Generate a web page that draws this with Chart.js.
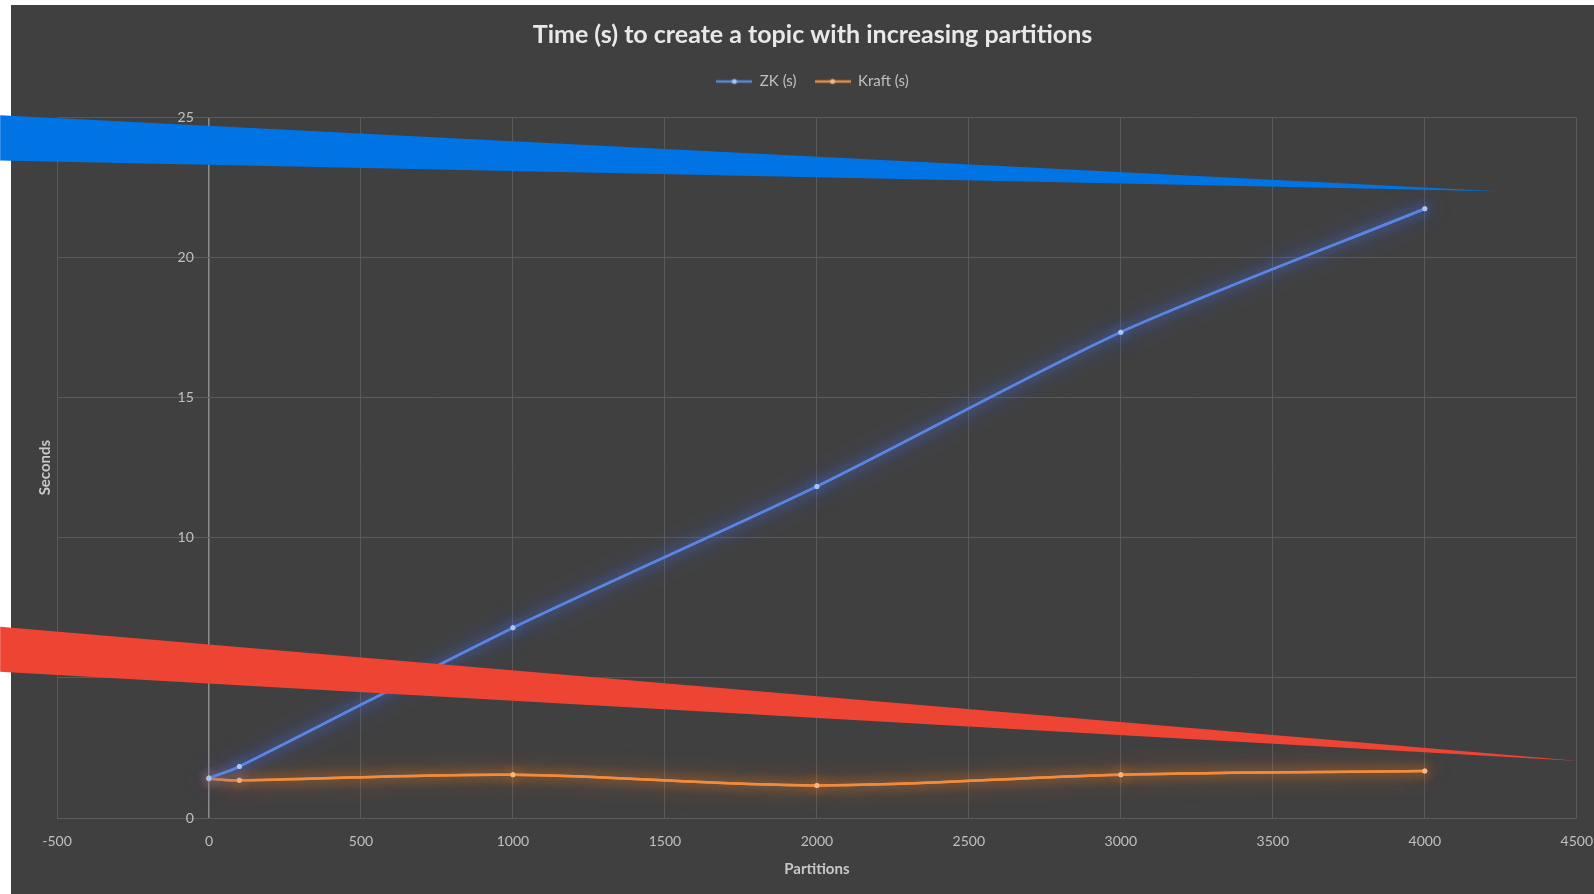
<!DOCTYPE html>
<html>
<head>
<meta charset="utf-8">
<script src="https://cdn.jsdelivr.net/npm/chart.js@4.4.1/dist/chart.umd.min.js"></script>
<style>
  html, body { margin: 0; padding: 0; background: #ffffff; }
  #wrap { position: relative; width: 1594px; height: 894px; overflow: hidden; }
  #bg { position: absolute; left: 11px; top: 5px; right: 0; bottom: 0; background: #404040; }
  #chart { position: absolute; left: 0; top: 0; }
</style>
</head>
<body>
<div id="wrap">
  <div id="bg"></div>
  <canvas id="chart" width="1594" height="894"></canvas>
</div>
<script>
// data
const partitions = [0, 100, 1000, 2000, 3000, 4000];
const zkSeconds = [1.43, 1.84, 6.79, 11.83, 17.33, 21.73];
const kraftSeconds = [1.41, 1.35, 1.55, 1.17, 1.55, 1.68];
const seriesNames = ['ZK (s)', 'Kraft (s)'];
const xTickStep = 500;
const yTickStep = 5;

// highlight wedges drawn over the chart (data units: left edge, left edge, tip)
const blueWedge = [[-687, 25.06], [-687, 23.45], [4241, 22.35]];
const redWedge = [[-687, 6.83], [-687, 5.22], [4507, 2.04]];

const toPoints = (ys) => partitions.map((x, i) => ({ x: x, y: ys[i] }));

// little line-with-dot legend marker
function legendMarker(lineColor, dotColor) {
  const c = document.createElement('canvas');
  c.width = 36; c.height = 10;
  const g = c.getContext('2d');
  g.strokeStyle = lineColor; g.lineWidth = 2.5;
  g.beginPath(); g.moveTo(0, 5); g.lineTo(36, 5); g.stroke();
  g.fillStyle = dotColor;
  g.beginPath(); g.arc(18, 5, 2.5, 0, Math.PI * 2); g.fill();
  return c;
}

// soft glow round each line (drawn twice so the halo is visible)
const glow = {
  id: 'glow',
  beforeDatasetDraw(chart, args) {
    const ds = chart.data.datasets[args.index];
    chart.ctx.save();
    chart.ctx.shadowColor = ds.glowColor;
    chart.ctx.shadowBlur = 24;
  },
  afterDatasetDraw(chart, args) {
    chart.ctx.shadowBlur = 12;
    args.meta.controller.draw();
    chart.ctx.restore();
  }
};

const wedges = {
  id: 'wedges',
  afterDraw(chart) {
    const { ctx, scales } = chart;
    const fillWedge = (pts, color) => {
      ctx.save();
      ctx.fillStyle = color;
      ctx.beginPath();
      pts.forEach((p, i) => {
        const px = scales.x.getPixelForValue(p[0]);
        const py = scales.y.getPixelForValue(p[1]);
        if (i === 0) ctx.moveTo(px, py); else ctx.lineTo(px, py);
      });
      ctx.closePath();
      ctx.fill();
      ctx.restore();
    };
    fillWedge(blueWedge, '#0074e4');
    fillWedge(redWedge, '#ee4433');
  }
};

const legendGap = {
  id: 'legendGap',
  beforeInit(chart) {
    const fit = chart.legend.fit;
    chart.legend.fit = function () {
      fit.bind(chart.legend)();
      this.height += 18;
    };
  }
};

const plainNumber = (v) => String(v);

const ctx = document.getElementById('chart').getContext('2d');
new Chart(ctx, {
  type: 'line',
  data: {
    datasets: [
      {
        label: seriesNames[0],
        data: toPoints(zkSeconds),
        borderColor: '#5a86e0',
        backgroundColor: '#aac4f4',
        glowColor: 'rgba(70, 110, 240, 1)',
        borderWidth: 2.5,
        pointRadius: 2.5,
        pointBorderWidth: 0,
        tension: 0.25,
        marker: legendMarker('#5a86e0', '#aac4f4')
      },
      {
        label: seriesNames[1],
        data: toPoints(kraftSeconds),
        borderColor: '#f08c40',
        backgroundColor: '#f7b882',
        glowColor: 'rgba(245, 125, 30, 1)',
        borderWidth: 2.5,
        pointRadius: 2.5,
        pointBorderWidth: 0,
        tension: 0.35,
        marker: legendMarker('#f08c40', '#f7b882')
      }
    ]
  },
  options: {
    responsive: false,
    animation: false,
    layout: { padding: { left: 33, right: 2, top: 0, bottom: 16 } },
    plugins: {
      title: {
        display: true,
        text: 'Time (s) to create a topic with increasing partitions',
        color: '#e8e8e8',
        font: { family: 'Lato', size: 25, weight: 'bold' },
        padding: { top: 20, bottom: 6 }
      },
      legend: {
        labels: {
          color: '#c0c0c0',
          font: { family: 'Lato', size: 15 },
          usePointStyle: true,
          pointStyleWidth: 36,
          padding: 18,
          generateLabels(chart) {
            return chart.data.datasets.map((ds, i) => ({
              text: ds.label,
              pointStyle: ds.marker,
              fontColor: '#c0c0c0',
              lineWidth: 0,
              strokeStyle: 'transparent',
              fillStyle: 'transparent',
              datasetIndex: i
            }));
          }
        }
      },
      tooltip: { enabled: false }
    },
    scales: {
      x: {
        type: 'linear',
        min: -500,
        max: 4500,
        ticks: {
          stepSize: xTickStep,
          callback: plainNumber,
          color: '#c0c0c0',
          font: { family: 'Lato', size: 14 },
          padding: 1
        },
        grid: {
          color: (c) => (c.tick && c.tick.value === 0 ? '#8c8c8c' : '#5a5a5a'),
          lineWidth: (c) => (c.tick && c.tick.value === 0 ? 1.5 : 1),
          drawTicks: true,
          tickLength: 14,
          tickColor: 'transparent'
        },
        border: { color: '#5a5a5a' },
        title: {
          display: true,
          text: 'Partitions',
          color: '#c8c8c8',
          font: { family: 'Lato', size: 15, weight: 'bold' },
          padding: { top: 9, bottom: 0 }
        }
      },
      y: {
        type: 'linear',
        position: { x: -50 },
        min: 0,
        max: 25,
        afterFit(scale) { scale.width = 0; },
        ticks: {
          stepSize: yTickStep,
          callback: plainNumber,
          color: '#c0c0c0',
          font: { family: 'Lato', size: 14 }
        },
        grid: { color: '#5a5a5a', drawTicks: false },
        border: { display: false }
      },
      yTitle: {
        type: 'linear',
        position: 'left',
        min: 0,
        max: 25,
        grid: { display: false, drawTicks: false },
        border: { display: false },
        ticks: { display: false },
        title: {
          display: true,
          text: 'Seconds',
          color: '#c8c8c8',
          font: { family: 'Lato', size: 15, weight: 'bold' },
          padding: { top: 3, bottom: 3 }
        }
      }
    }
  },
  plugins: [glow, wedges, legendGap]
});
</script>
</body>
</html>
